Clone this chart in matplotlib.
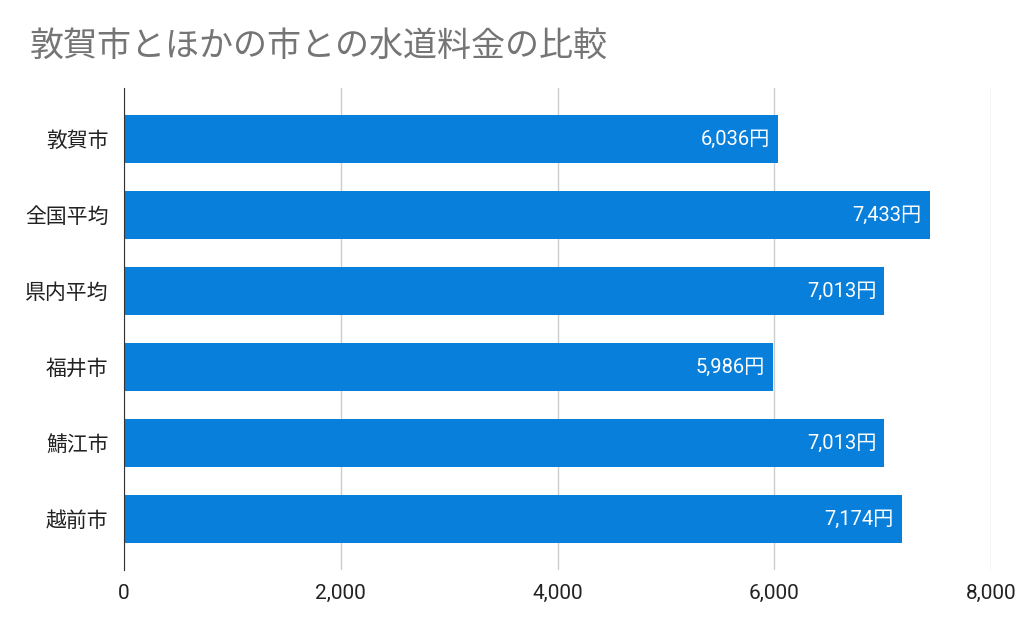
import matplotlib.pyplot as plt

plt.rcParams['font.family'] = ['Roboto', 'Noto Sans CJK JP', 'DejaVu Sans']

cities = ['敦賀市', '全国平均', '県内平均', '福井市', '鯖江市', '越前市']
fees = [6036, 7433, 7013, 5986, 7013, 7174]
xticks = [0, 2000, 4000, 6000, 8000]

fig = plt.figure(figsize=(10.24, 6.33), dpi=100)
ax = fig.add_axes([0.121, 0.0995, 0.847, 0.7615])

pos = list(range(len(cities)))
ax.barh(pos, fees, height=0.63, color='#087fdb', zorder=3)
for p, v in zip(pos, fees):
    ax.text(v - 8 * 8000 / 867, p, f'{v:,}円', ha='right', va='center',
            color='white', fontsize=14.5, zorder=4)

ax.set_ylim(len(cities) - 0.33, -0.67)
ax.set_xlim(0, 8000)
ax.set_yticks(pos)
ax.set_yticklabels(cities, fontsize=15, color='#222222')
ax.set_xticks(xticks)
ax.set_xticklabels([f'{t:,}' for t in xticks], fontsize=15, color='#222222')
ax.tick_params(length=0, pad=10)
ax.tick_params(axis='y', pad=11)
ax.grid(axis='x', color='#cccccc', linewidth=1, zorder=0)
for s in ['top', 'right', 'bottom']:
    ax.spines[s].set_visible(False)
ax.spines['left'].set_color('#333333')
ax.spines['left'].set_zorder(5)

fig.text(30 / 1024, 1 - 47 / 633, '敦賀市とほかの市との水道料金の比較', fontsize=24.5,
         color='#757575', va='center', ha='left')

fig.savefig('out.png', dpi=100)
